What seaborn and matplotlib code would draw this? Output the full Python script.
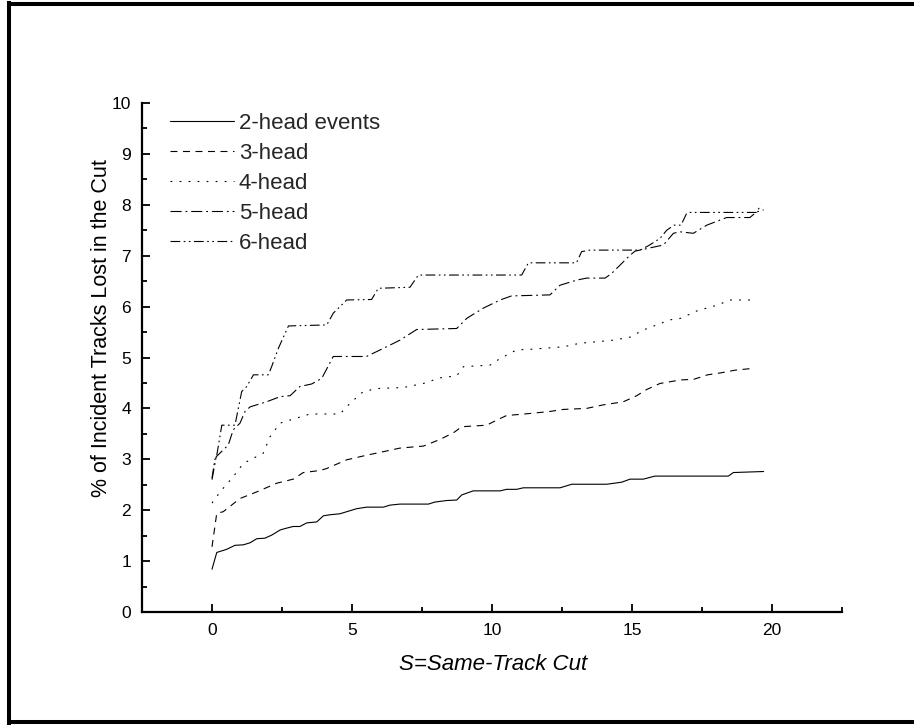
import matplotlib
matplotlib.use("Agg")
import matplotlib.pyplot as plt
from matplotlib.lines import Line2D
from matplotlib.ticker import MultipleLocator
import seaborn as sns
import pandas as pd

# ---------------- data ----------------
x2 = [0, 0.17, 0.52, 0.82, 1.12, 1.36, 1.6, 1.89, 2.13, 2.43, 2.61, 2.9, 3.14, 3.38, 3.74,
      3.98, 4.21, 4.57, 4.81, 5.17, 5.52, 6.12, 6.36, 6.71, 7.73, 7.96, 8.38, 8.74, 8.92,
      9.33, 10.29, 10.52, 10.88, 11.12, 12.43, 12.85, 14.1, 14.63, 14.93, 15.4, 15.82,
      18.44, 18.62, 19.7]
y2 = [0.84, 1.17, 1.23, 1.31, 1.32, 1.36, 1.44, 1.45, 1.51, 1.61, 1.64, 1.68, 1.68, 1.75, 1.77,
      1.89, 1.91, 1.93, 1.97, 2.03, 2.06, 2.06, 2.10, 2.12, 2.12, 2.16, 2.19, 2.2, 2.3,
      2.38, 2.38, 2.41, 2.41, 2.44, 2.44, 2.51, 2.51, 2.55, 2.61, 2.61, 2.67,
      2.67, 2.74, 2.76]

x3 = [0, 0.17, 0.4, 1.0, 1.6, 2.31, 2.9, 3.26, 3.86, 4.1, 4.81, 5.52, 6.12, 6.71, 7.55, 8.14,
      8.62, 8.92, 9.81, 10.17, 10.52, 11.36, 12.07, 12.55, 13.38, 13.98, 14.69, 15.17, 15.52,
      16.0, 16.74, 17.2, 17.7, 18.19, 18.67, 19.2]
y3 = [1.28, 1.94, 1.97, 2.23, 2.36, 2.53, 2.61, 2.74, 2.78, 2.82, 2.99, 3.08, 3.15, 3.22, 3.26, 3.39,
      3.52, 3.64, 3.67, 3.77, 3.86, 3.9, 3.94, 3.98, 4.0, 4.07, 4.13, 4.25, 4.37,
      4.49, 4.56, 4.57, 4.66, 4.70, 4.75, 4.78]

x4 = [0, 0.29, 0.76, 1.12, 1.83, 2.07, 2.43, 3.02, 3.5, 4.57, 4.93, 5.4, 5.88, 6.83, 7.55, 8.14,
      8.74, 8.98, 9.93, 10.29, 10.88, 11.36, 12.55, 13.14, 14.33, 14.93, 15.4, 15.88, 16.36,
      16.74, 17.34, 18.06, 18.49, 19.4]
y4 = [2.14, 2.36, 2.66, 2.92, 3.12, 3.44, 3.71, 3.81, 3.89, 3.89, 4.1, 4.33, 4.39, 4.41, 4.49, 4.6,
      4.64, 4.82, 4.85, 4.98, 5.15, 5.16, 5.21, 5.28, 5.34, 5.40, 5.54, 5.64, 5.74,
      5.77, 5.92, 6.03, 6.13, 6.13]

x5 = [0, 0.15, 0.58, 0.76, 1.0, 1.18, 1.36, 1.95, 2.43, 2.79, 3.14, 3.56, 3.92, 4.33, 5.52, 6.12,
      6.71, 7.31, 8.74, 9.1, 9.69, 10.29, 10.7, 12.07, 12.43, 13.02, 13.38, 14.04, 14.27, 14.93,
      15.11, 16.12, 16.48, 16.71, 17.19, 17.67, 18.38, 19.21, 19.45, 19.7]
y5 = [2.6, 3.05, 3.28, 3.58, 3.71, 3.94, 4.03, 4.13, 4.23, 4.25, 4.43, 4.48, 4.59, 5.02, 5.02, 5.18,
      5.34, 5.55, 5.57, 5.77, 5.97, 6.13, 6.21, 6.23, 6.42, 6.52, 6.56, 6.56, 6.65, 7.01,
      7.09, 7.21, 7.44, 7.47, 7.44, 7.6, 7.75, 7.75, 7.86, 7.9]

x6 = [0, 0.1, 0.17, 0.35, 0.82, 1.06, 1.24, 1.48, 2.01, 2.13, 2.37, 2.73, 4.1, 4.33, 4.81, 5.7,
      5.94, 7.07, 7.37, 11.06, 11.3, 13.02, 13.2, 13.5, 15.29, 15.6, 16.0, 16.24, 16.5, 16.75,
      16.95, 17.07, 19.45, 19.6]
y6 = [2.63, 2.99, 3.08, 3.67, 3.67, 4.33, 4.43, 4.66, 4.66, 4.82, 5.18, 5.62, 5.64, 5.87, 6.13, 6.14,
      6.36, 6.38, 6.62, 6.62, 6.86, 6.86, 7.08, 7.11, 7.11, 7.2, 7.34, 7.5, 7.6, 7.6,
      7.83, 7.85, 7.85, 8.0]

labels = ["2-head events", "3-head", "4-head", "5-head", "6-head"]
xticks = [0, 5, 10, 15, 20]
yticks = [0, 1, 2, 3, 4, 5, 6, 7, 8, 9, 10]
xlabel = "S=Same-Track Cut"
ylabel = "% of Incident Tracks Lost in the Cut"

# ---------------- style ----------------
sns.set_theme(style="white")
plt.rcParams["font.family"] = ["Liberation Sans", "DejaVu Sans"]
plt.rcParams["lines.scale_dashes"] = False

fig = plt.figure(figsize=(9.14, 7.25), dpi=100)
ax = fig.add_axes([142 / 914, 1 - 612 / 725, 700 / 914, 509 / 725])

series = [(x2, y2), (x3, y3), (x4, y4), (x5, y5), (x6, y6)]
dash_styles = [None,
               (5.0, 4.0),
               (1.3, 5.2),
               (8.0, 2.8, 1.3, 2.8),
               (7.0, 2.5, 1.2, 2.5, 1.2, 2.5)]

for (xs, ys), lab, ds in zip(series, labels, dash_styles):
    df = pd.DataFrame({"x": xs, "y": ys})
    sns.lineplot(data=df, x="x", y="y", ax=ax, color="black", linewidth=0.8,
                 label=lab, sort=False, estimator=None)
    line = ax.lines[-1]
    if ds is not None:
        line.set_dashes(ds)

ax.set_xlim(-2.5, 22.5)
ax.set_ylim(0, 10)
ax.set_xticks(xticks)
ax.set_yticks(yticks)
ax.xaxis.set_minor_locator(MultipleLocator(2.5))
ax.yaxis.set_minor_locator(MultipleLocator(0.5))

for s in ["top", "right"]:
    ax.spines[s].set_visible(False)
for s in ["left", "bottom"]:
    ax.spines[s].set_visible(True)
    ax.spines[s].set_color("black")
    ax.spines[s].set_linewidth(1.6)

ax.tick_params(which="major", direction="in", length=6, width=1.3, colors="black",
               labelsize=12.5, pad=8)
ax.tick_params(which="minor", direction="in", length=3.5, width=1.3, colors="black")
ax.tick_params(axis="x", which="both", bottom=True, top=False)
ax.tick_params(axis="y", which="both", left=True, right=False)

ax.set_xlabel(xlabel, fontsize=16, style="italic", color="black")
ax.set_ylabel(ylabel, fontsize=15.5, color="black")
ax.xaxis.set_label_coords(0.501, -0.082)
ax.yaxis.set_label_coords(-0.043, 0.558)

# legend
handles, labs = ax.get_legend_handles_labels()
if ax.get_legend() is not None:
    ax.get_legend().remove()
leg = fig.legend(handles, labs, loc="upper left", bbox_to_anchor=(170 / 914, 1 - 113 / 725),
                 bbox_transform=fig.transFigure, frameon=False, fontsize=16,
                 handlelength=2.9, handletextpad=0.2, labelspacing=0.4,
                 borderpad=0, borderaxespad=0)

# outer frame (left, top, bottom; no right side)
lw = 2.9
fig.add_artist(Line2D([9 / 914, 9 / 914], [1 - 3 / 725, 1 - 723 / 725], transform=fig.transFigure,
                      color="black", linewidth=lw, solid_capstyle="projecting"))
fig.add_artist(Line2D([9 / 914, 1.01], [1 - 4 / 725, 1 - 4 / 725], transform=fig.transFigure,
                      color="black", linewidth=lw, solid_capstyle="projecting"))
fig.add_artist(Line2D([9 / 914, 1.01], [1 - 722 / 725, 1 - 722 / 725], transform=fig.transFigure,
                      color="black", linewidth=lw, solid_capstyle="projecting"))

fig.savefig("out.png", dpi=100, facecolor="white")
